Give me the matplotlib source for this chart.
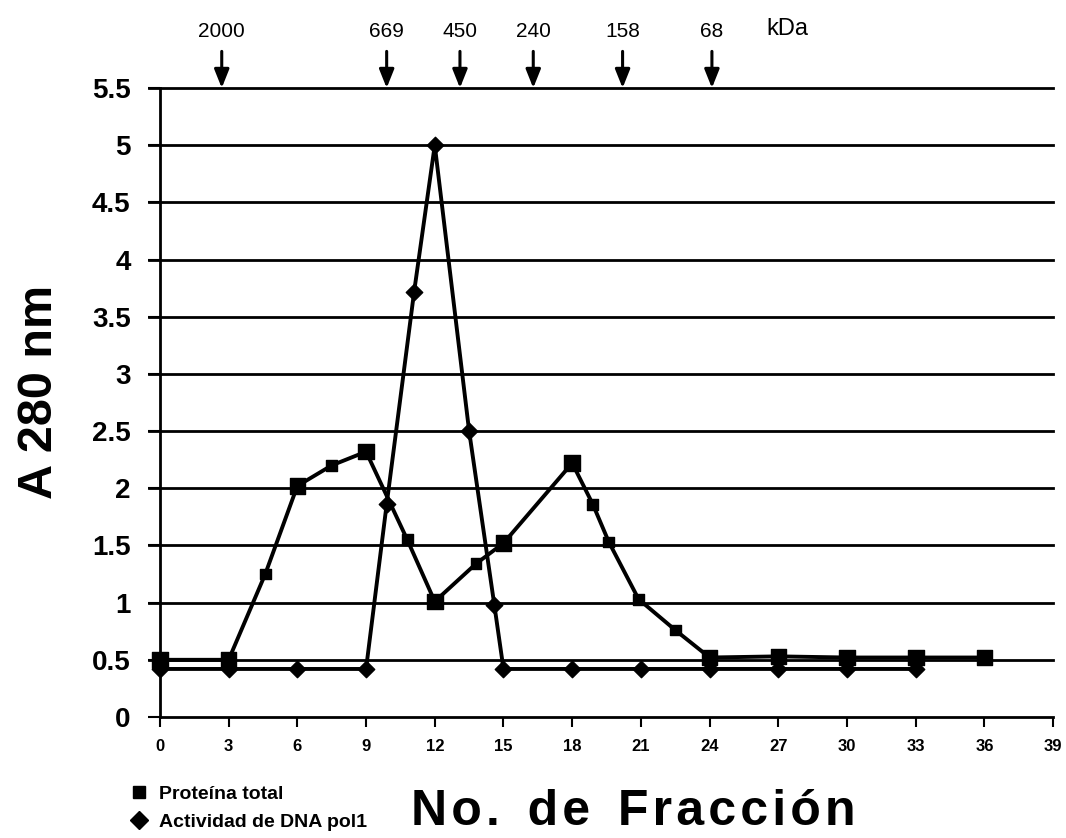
import matplotlib
matplotlib.use("Agg")
import matplotlib.pyplot as plt
from matplotlib.lines import Line2D

plt.rcParams['font.family'] = ['Liberation Sans', 'DejaVu Sans']

# Data
protein_x = [0, 3, 4.6, 6, 7.5, 9, 10.8, 12, 13.8, 15, 18, 18.9, 19.6, 20.9, 22.5, 24, 27, 30, 33, 36]
protein_y = [0.5, 0.5, 1.25, 2.02, 2.2, 2.32, 1.55, 1.01, 1.34, 1.52, 2.22, 1.86, 1.53, 1.03, 0.76, 0.52, 0.53, 0.52, 0.52, 0.52]

pol_x = [0, 3, 6, 9, 9.9, 11.1, 12, 13.5, 14.6, 15, 18, 21, 24, 27, 30, 33]
pol_y = [0.42, 0.42, 0.42, 0.42, 1.86, 3.72, 5.0, 2.5, 0.98, 0.42, 0.42, 0.42, 0.42, 0.42, 0.42, 0.42]

marker_pos = [2.7, 9.9, 13.1, 16.3, 20.2, 24.1]
marker_labels = ['2000', '669', '450', '240', '158', '68']

xticks = list(range(0, 40, 3))
yticks = [0, 0.5, 1, 1.5, 2, 2.5, 3, 3.5, 4, 4.5, 5, 5.5]
ytick_labels = ['0', '0.5', '1', '1.5', '2', '2.5', '3', '3.5', '4', '4.5', '5', '5.5']

fig = plt.figure(figsize=(10.66, 8.38), dpi=100)
ax = fig.add_axes([0.150, 0.1444, 0.838, 0.7506])

ax.set_xlim(0, 39)
ax.set_ylim(0, 5.5)

for yv in yticks[1:]:
    ax.axhline(yv, color='black', lw=2.0, zorder=1, xmin=-0.012, clip_on=False)

# lines
ax.plot(protein_x, protein_y, color='black', lw=2.8, zorder=3, clip_on=False)
ax.plot(pol_x, pol_y, color='black', lw=2.8, zorder=3, clip_on=False)
# markers: whole fractions (multiples of 3) drawn larger
p_sizes = [125 if abs(x % 3) < 1e-9 else 60 for x in protein_x]
ax.scatter(protein_x, protein_y, s=p_sizes, marker='s', color='black', zorder=4, clip_on=False)
ax.scatter(pol_x, pol_y, s=70, marker='D', color='black', zorder=4, clip_on=False)

ax.spines['top'].set_visible(False)
ax.spines['right'].set_visible(False)
ax.spines['left'].set_linewidth(2.0)
ax.spines['bottom'].set_linewidth(2.0)

ax.set_xticks(xticks)
ax.set_xticklabels([str(t) for t in xticks], fontsize=12, fontweight='bold')
ax.set_yticks(yticks)
ax.set_yticklabels(ytick_labels, fontsize=20, fontweight='bold')
ax.tick_params(axis='y', length=9, width=1.5, pad=12)
ax.tick_params(axis='x', length=7, width=1.5, pad=9)

ax.set_ylabel('A 280 nm', fontsize=35, fontweight='bold')
ax.yaxis.set_label_coords(-0.110, 0.517)

hs = '\u200a'
xlabel_txt = '  '.join(hs.join(w) for w in ['No.', 'de', 'Fracción'])
fig.text(0.594, 0.031, xlabel_txt, fontsize=36,
         fontweight='bold', ha='center', va='center')

for xp, lab in zip(marker_pos, marker_labels):
    ax.annotate('', xy=(xp, 5.5), xytext=(xp, 5.5 + 0.32),
                xycoords='data', textcoords='data',
                arrowprops=dict(arrowstyle='-|>,head_length=0.8,head_width=0.32',
                                color='black', lw=2.2, mutation_scale=14,
                                shrinkA=0, shrinkB=0),
                annotation_clip=False)
    ax.text(xp, 5.99, lab, ha='center', va='center', fontsize=15)
ax.text(27.4, 6.02, 'kDa', ha='center', va='center', fontsize=17)

handles = [Line2D([], [], color='black', marker='s', linestyle='none', markersize=9),
           Line2D([], [], color='black', marker='D', linestyle='none', markersize=9)]
leg = fig.legend(handles, ['Proteína total', 'Actividad de DNA pol1'],
                 loc='lower left', bbox_to_anchor=(0.107, -0.012), frameon=False,
                 prop={'size': 14, 'weight': 'bold'}, handlelength=0.8,
                 handletextpad=0.6, labelspacing=0.5)

fig.savefig('out.png', dpi=100)
